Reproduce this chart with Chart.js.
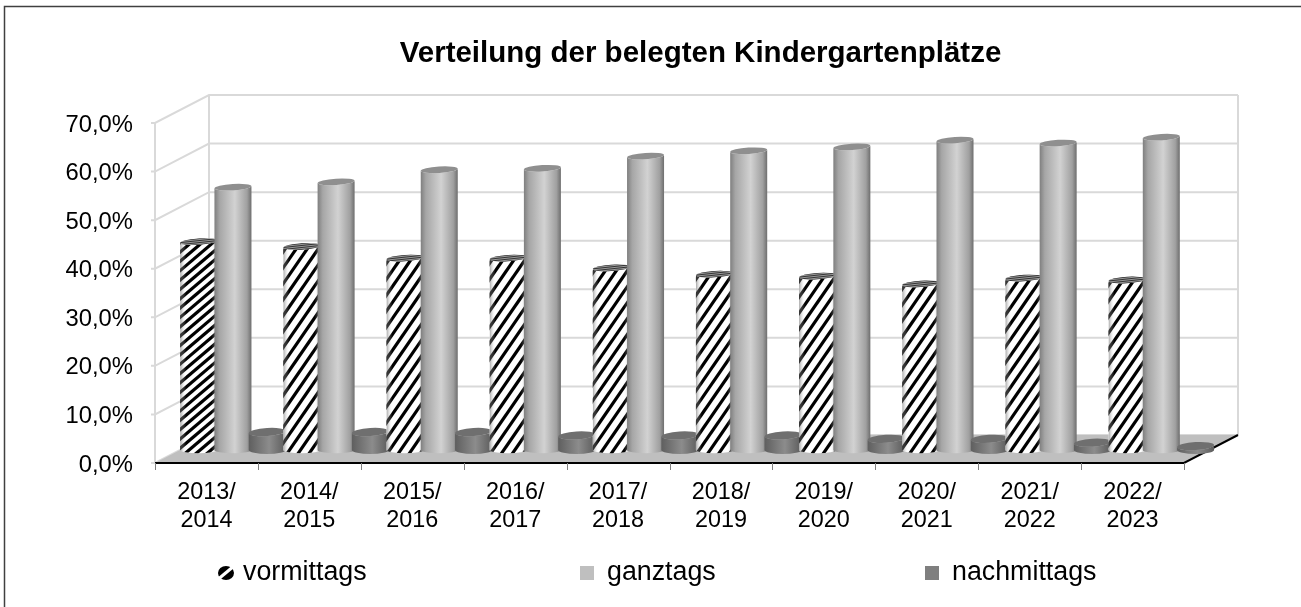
<!DOCTYPE html>
<html lang="de">
<head>
    <meta charset="UTF-8">
    <title>Verteilung der belegten Kindergartenplätze</title>
    <script src="https://cdn.jsdelivr.net/npm/chart.js"></script>
    <style>
        html, body { margin: 0; padding: 0; background: #fff; overflow: hidden; }
        #wrap { width: 1301px; height: 607px; }
    </style>
</head>
<body>
<div id="wrap"><canvas id="chart"></canvas></div>
<script>
    const jahre = [['2013/','2014'],['2014/','2015'],['2015/','2016'],['2016/','2017'],['2017/','2018'],
                   ['2018/','2019'],['2019/','2020'],['2020/','2021'],['2021/','2022'],['2022/','2023']];
    const vormittags  = [42.9, 41.9, 39.5, 39.5, 37.5, 36.2, 35.8, 34.2, 35.4, 35.0];
    const ganztags    = [54.1, 55.2, 57.7, 58.0, 60.5, 61.6, 62.4, 63.8, 63.2, 64.4];
    const nachmittags = [3.7, 3.7, 3.7, 3.0, 3.0, 3.0, 2.3, 2.3, 1.5, 0.8];

    const FONT = '"Liberation Sans", Arial, sans-serif';
    const DX = 54, DY = 28;        // Tiefe des 3D-Bodens
    const legendX = [216, 580, 925];

    function wall(chart) {
        const { ctx, chartArea: a, scales: { y } } = chart;
        ctx.save();
        // Rahmen: nur links und oben sichtbar
        ctx.strokeStyle = '#404040';
        ctx.lineWidth = 1.5;
        ctx.beginPath();
        ctx.moveTo(4.5, 607);
        ctx.lineTo(4.5, 6.5);
        ctx.lineTo(1301, 6.5);
        ctx.stroke();

        // Gitterlinien links und hinten
        ctx.strokeStyle = '#d9d9d9';
        ctx.lineWidth = 2;
        y.ticks.forEach(t => {
            const py = y.getPixelForValue(t.value);
            ctx.beginPath();
            ctx.moveTo(a.left - 4, py);
            ctx.lineTo(a.left, py);
            ctx.lineTo(a.left + DX, py - DY);
            ctx.lineTo(a.right + DX, py - DY);
            ctx.stroke();
        });
        ctx.beginPath();
        ctx.moveTo(a.left, a.top); ctx.lineTo(a.left, a.bottom);
        ctx.moveTo(a.left + DX, a.top - DY); ctx.lineTo(a.left + DX, a.bottom - DY);
        ctx.moveTo(a.right + DX, a.top - DY); ctx.lineTo(a.right + DX, a.bottom - DY);
        ctx.stroke();

        // Boden
        ctx.fillStyle = '#bfbfbf';
        ctx.beginPath();
        ctx.moveTo(a.left, a.bottom);
        ctx.lineTo(a.right, a.bottom);
        ctx.lineTo(a.right + DX, a.bottom - DY);
        ctx.lineTo(a.left + DX, a.bottom - DY);
        ctx.closePath();
        ctx.fill();

        // Achse
        ctx.strokeStyle = '#000';
        ctx.lineWidth = 2;
        ctx.beginPath();
        ctx.moveTo(a.left, a.bottom);
        ctx.lineTo(a.right, a.bottom);
        ctx.lineTo(a.right + DX, a.bottom - DY);
        ctx.stroke();
        ctx.strokeStyle = '#7f7f7f';
        ctx.lineWidth = 1;
        const step = (a.right - a.left) / jahre.length;
        for (let i = 0; i <= jahre.length; i++) {
            const px = Math.round(a.left + i * step) + 0.5;
            ctx.beginPath();
            ctx.moveTo(px, a.bottom);
            ctx.lineTo(px, a.bottom + 7);
            ctx.stroke();
        }
        ctx.restore();
    }

    function cylinderPath(ctx, x, top, base, r, ry) {
        ctx.beginPath();
        ctx.moveTo(x - r, top);
        ctx.lineTo(x - r, base);
        ctx.ellipse(x, base, r, ry, 0, Math.PI, 0, true);
        ctx.lineTo(x + r, top);
        ctx.ellipse(x, top, r, ry, -0.06, 0, Math.PI, false);
        ctx.closePath();
    }

    function cylinder(ctx, x, top, base, r, style, row) {
        const ry = style === 'dark' ? 4 : 3.2;
        const grad = ctx.createLinearGradient(x - r, 0, x + r, 0);
        ctx.save();
        cylinderPath(ctx, x, top, base, r, ry);
        if (style === 'hatch') {
            ctx.fillStyle = '#fff';
            ctx.fill();
            ctx.clip();
            // erste Säule flacher gestreift, die übrigen steiler
            const slope = row === 0 ? 0.85 : 1.45;
            const h = base - top + 10;
            const span = h / slope;
            ctx.strokeStyle = '#000';
            ctx.lineWidth = 3.2;
            for (let sx = x - r - span - 4; sx < x + r + 4; sx += 11) {
                ctx.beginPath();
                ctx.moveTo(sx + span, top - 5);
                ctx.lineTo(sx, base + 5);
                ctx.stroke();
            }
            grad.addColorStop(0, 'rgba(90,90,90,0.55)');
            grad.addColorStop(0.16, 'rgba(255,255,255,0)');
            grad.addColorStop(0.85, 'rgba(255,255,255,0)');
            grad.addColorStop(1, 'rgba(90,90,90,0.55)');
            ctx.fillStyle = grad;
            ctx.fillRect(x - r, top - 6, 2 * r, base - top + 12);
        } else if (style === 'light') {
            grad.addColorStop(0, '#7f7f7f');
            grad.addColorStop(0.14, '#a6a6a6');
            grad.addColorStop(0.55, '#d2d2d2');
            grad.addColorStop(0.88, '#a0a0a0');
            grad.addColorStop(1, '#6e6e6e');
            ctx.fillStyle = grad;
            ctx.fill();
        } else {
            grad.addColorStop(0, '#5f5f5f');
            grad.addColorStop(0.55, '#8c8c8c');
            grad.addColorStop(1, '#5c5c5c');
            ctx.fillStyle = grad;
            ctx.fill();
        }
        ctx.restore();

        // Deckel
        ctx.save();
        ctx.beginPath();
        ctx.ellipse(x, top, r, ry, -0.06, 0, Math.PI * 2);
        ctx.fillStyle = style === 'light' ? '#8f8f8f' : style === 'dark' ? '#6f6f6f' : '#9a9a9a';
        ctx.fill();
        if (style === 'hatch') {
            ctx.clip();
            ctx.strokeStyle = '#333';
            ctx.lineWidth = 1;
            for (let k = -3; k <= 3; k += 2) {
                ctx.beginPath();
                ctx.moveTo(x - r, top + k + 2);
                ctx.lineTo(x + r, top + k - 2);
                ctx.stroke();
            }
        }
        ctx.restore();
    }

    const styles = ['hatch', 'light', 'dark'];
    const barOffsetX = 26.5, barOffsetY = 13;

    const cylinders = {
        id: 'cylinders',
        // Standardbalken aus, die Säulen kommen aus den Elementen der Bar-Datasets
        beforeDatasetDraw() { return false; },
        afterDatasetsDraw(chart) {
            const { ctx } = chart;
            jahre.forEach((_, row) => {
                styles.forEach((style, ds) => {
                    const bar = chart.getDatasetMeta(ds).data[row];
                    cylinder(ctx, bar.x + barOffsetX + row * 0.25, bar.y - barOffsetY, bar.base - barOffsetY,
                        18.5, style, row);
                });
            });
        }
    };

    const rahmen = {
        id: 'rahmen',
        afterLayout(chart) {
            // Titel sitzt rechts von der Mitte
            chart.titleBlock.left = 100;
            chart.titleBlock.right = 1301;
        },
        beforeDatasetsDraw: wall,
        afterDraw(chart) {
            const { ctx } = chart;
            ctx.save();
            ctx.font = '26.8px ' + FONT;
            ctx.textBaseline = 'middle';
            chart.data.datasets.forEach((d, i) => {
                const mx = legendX[i], my = 573;
                if (i === 0) {
                    ctx.fillStyle = '#000';
                    ctx.beginPath();
                    ctx.ellipse(mx + 10, my, 8, 7, 0, 0, Math.PI * 2);
                    ctx.fill();
                    ctx.strokeStyle = '#fff';
                    ctx.lineWidth = 3;
                    ctx.beginPath();
                    ctx.moveTo(mx, my + 8);
                    ctx.lineTo(mx + 18, my - 7);
                    ctx.stroke();
                } else {
                    ctx.fillStyle = d.backgroundColor;
                    ctx.fillRect(mx, my - 7, 14, 14);
                }
                ctx.fillStyle = '#000';
                ctx.fillText(d.label, mx + 27, my);
            });
            ctx.restore();
        }
    };

    new Chart(document.getElementById('chart'), {
        type: 'bar',
        data: {
            labels: jahre,
            datasets: [
                { label: 'vormittags', data: vormittags, backgroundColor: '#000' },
                { label: 'ganztags', data: ganztags, backgroundColor: '#bfbfbf' },
                { label: 'nachmittags', data: nachmittags, backgroundColor: '#7f7f7f' }
            ]
        },
        plugins: [rahmen, cylinders],
        options: {
            responsive: true,
            maintainAspectRatio: false,
            animation: false,
            datasets: { bar: { barPercentage: 1, categoryPercentage: 1 } },
            layout: { padding: { top: 0, right: 117, bottom: 0, left: 0 } },
            plugins: {
                legend: { display: false },
                tooltip: { enabled: false },
                title: {
                    display: true,
                    text: 'Verteilung der belegten Kindergartenplätze',
                    color: '#000',
                    font: { family: FONT, size: 29.5, weight: 'bold', lineHeight: 1.2 },
                    padding: { top: 36, bottom: 51.6 }
                }
            },
            scales: {
                x: {
                    grid: { display: false },
                    border: { display: false },
                    afterFit(s) { s.height = 144; },
                    ticks: {
                        color: '#000', padding: 8, maxRotation: 0, autoSkip: false,
                        font: { family: FONT, size: 23.4, lineHeight: 1.18 }
                    }
                },
                y: {
                    min: 0, max: 70,
                    grid: { display: false },
                    border: { display: false },
                    afterFit(s) { s.width = 155; },
                    ticks: {
                        stepSize: 10, color: '#000', padding: 14, labelOffset: 2,
                        font: { family: FONT, size: 23.8 },
                        callback: v => v.toFixed(1).replace('.', ',') + '%'
                    }
                }
            }
        }
    });
</script>
</body>
</html>
